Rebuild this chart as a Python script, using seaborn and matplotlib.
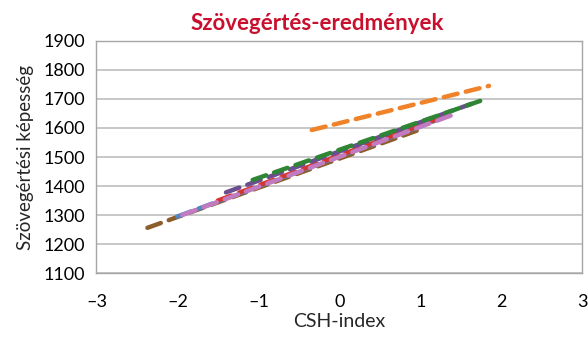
import matplotlib
matplotlib.use("Agg")
import matplotlib.pyplot as plt
import seaborn as sns
import pandas as pd

sns.set_theme(style="white")
plt.rcParams["font.family"] = ["Lato", "DejaVu Sans"]

# Regression lines of reading score on the CSH index, one per group:
# index range covered and the fitted score at each end.
groups = ["A", "B", "C", "D", "E", "F", "G"]
x_start = [-2.37, -2.00, -1.50, -1.40, -1.07, -1.94, -0.34]
x_end = [1.05, 1.27, 1.30, 1.63, 1.80, 1.40, 1.85]
y_start = [1256, 1295, 1350, 1378, 1421, 1300, 1593]
y_end = [1600, 1634, 1640, 1683, 1699, 1645, 1745]
colors = ["#8B5E2B", "#4F86C6", "#D9342B", "#6B4E8F", "#2E8533", "#C27BC0", "#F0822A"]

x_ticks = [-3, -2, -1, 0, 1, 2, 3]
y_ticks = [1100, 1200, 1300, 1400, 1500, 1600, 1700, 1800, 1900]

rows = []
for g, xa, xb, ya, yb in zip(groups, x_start, x_end, y_start, y_end):
    rows.append({"group": g, "x": xa, "y": ya})
    rows.append({"group": g, "x": xb, "y": yb})
df = pd.DataFrame(rows)

fig = plt.figure(figsize=(5.88, 3.38), dpi=100)
ax = fig.add_axes([0.164, 0.192, 0.826, 0.687])

sns.lineplot(data=df, x="x", y="y", hue="group", palette=colors,
             hue_order=groups, linewidth=3.2, legend=False, ax=ax,
             estimator=None, sort=False)
for line in ax.get_lines():
    line.set_dashes([3.2, 1.9])
    line.set_dash_capstyle("round")

ax.set_xlim(-3, 3)
ax.set_ylim(1100, 1900)
ax.set_xticks(x_ticks)
ax.set_xticklabels(["\u2013" + str(-t) if t < 0 else str(t) for t in x_ticks])
ax.set_yticks(y_ticks)
ax.yaxis.grid(True, color="#BDBDBD", linewidth=1.2)
ax.set_axisbelow(True)
for s in ax.spines.values():
    s.set_color("#A6A6A6")
    s.set_linewidth(1.0)
ax.tick_params(axis="y", which="major", direction="out", length=4, width=1,
               color="#A6A6A6", labelsize=13, labelcolor="black", pad=4)
ax.tick_params(axis="x", which="major", direction="inout", length=6, width=1,
               color="#A6A6A6", labelsize=13, labelcolor="black", pad=12)

ax.set_xlabel("CSH-index", fontsize=14, labelpad=2)
ax.set_ylabel("Szövegértési képesség", fontsize=13.5, labelpad=7)
ax.set_title("Szövegértés-eredmények", fontsize=16, fontweight="bold",
             color="#C8102E", pad=8, x=0.455)

fig.savefig("out.png", dpi=100)
